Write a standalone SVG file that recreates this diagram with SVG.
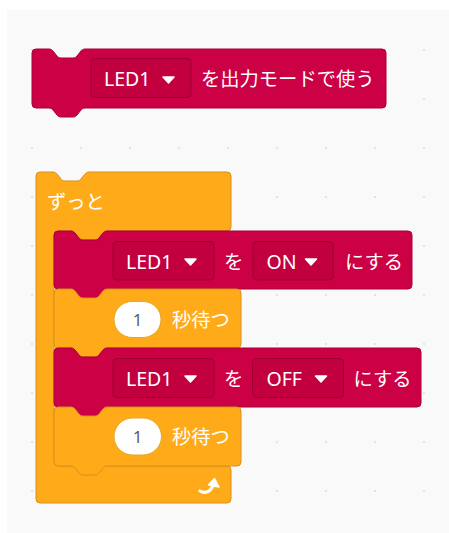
<svg xmlns="http://www.w3.org/2000/svg" width="449" height="533" viewBox="0 0 449 533">
<style>
.red{fill:#cc0044;stroke:#a8003a;stroke-width:1}
.yel{fill:#ffab19;stroke:#d6901a;stroke-width:1}
.dd{fill:#c20040;stroke:#99002f;stroke-width:1}
.arr{fill:#fff;stroke:#fff;stroke-width:1.5;stroke-linejoin:round}
.t{fill:#fff;font-family:"Noto Sans","Noto Sans CJK JP",sans-serif;font-size:19.5px}
.j{fill:#fff;font-family:"Noto Sans CJK JP",sans-serif;font-size:19.3px}
.oval{fill:#fff;stroke:#e5a52a;stroke-width:1}
.num{fill:#575e75;font-family:"Noto Sans","Noto Sans CJK JP",sans-serif;font-size:17px;text-anchor:middle}
</style>
<defs>
<pattern id="grid" patternUnits="userSpaceOnUse" x="8" y="-23" width="49" height="49">
<circle cx="24" cy="24" r="1" fill="#dcdcdc"/>
</pattern>
</defs>
<rect x="0" y="0" width="449" height="533" fill="#fff"/>
<rect x="7" y="10" width="442" height="523" fill="#f9f9f9"/>
<rect x="7" y="10" width="442" height="523" fill="url(#grid)"/>

<g id="setup">
<path class="red" d="M32,53 a4,4 0 0 1 4,-4 H49 c2,0 3,1 4,2 l4,5 c1,1 2,2 4,2 h12 c2,0 3,-1 4,-2 l4,-5 c1,-1 2,-2 4,-2 H382 a4,4 0 0 1 4,4 V104 a4,4 0 0 1 -4,4 H85 c-2,0 -3,1 -4,2 l-4,5 c-1,1 -2,2 -4,2 h-12 c-2,0 -3,-1 -4,-2 l-4,-5 c-1,-1 -2,-2 -4,-2 H36 a4,4 0 0 1 -4,-4 Z"/>
<rect class="dd" x="91" y="58.5" width="100" height="39" rx="4"/>
<text class="t" x="104" y="86">LED1</text>
<path class="arr" d="M163,77 h11 l-5.5,6 z"/>
<text class="j" x="201" y="86">を出力モードで使う</text>
</g>

<g id="forever">
<path class="yel" d="M36,176 a4,4 0 0 1 4,-4 H53 c2,0 3,1 4,2 l4,5 c1,1 2,2 4,2 h12 c2,0 3,-1 4,-2 l4,-5 c1,-1 2,-2 4,-2 H227 a4,4 0 0 1 4,4 V227 a4,4 0 0 1 -4,4 H107 c-2,0 -3,1 -4,2 l-4,5 c-1,1 -2,2 -4,2 h-12 c-2,0 -3,-1 -4,-2 l-4,-5 c-1,-1 -2,-2 -4,-2 H58 a4,4 0 0 0 -4,4 V462 a4,4 0 0 0 4,4 H227 a4,4 0 0 1 4,4 V499 a4,4 0 0 1 -4,4 H40 a4,4 0 0 1 -4,-4 Z"/>
<text class="j" x="47" y="209">ずっと</text>
<path d="M200,491 c5,3 11,1 13,-6" fill="none" stroke="#fff" stroke-width="3.2" stroke-linecap="round"/>
<path class="arr" d="M208.5,485 L214.5,478.5 L219,487 Z"/>
</g>

<g id="led-on">
<path class="red" d="M54,235 a4,4 0 0 1 4,-4 H71 c2,0 3,1 4,2 l4,5 c1,1 2,2 4,2 h12 c2,0 3,-1 4,-2 l4,-5 c1,-1 2,-2 4,-2 H408 a4,4 0 0 1 4,4 V285 a4,4 0 0 1 -4,4 H107 c-2,0 -3,1 -4,2 l-4,5 c-1,1 -2,2 -4,2 h-12 c-2,0 -3,-1 -4,-2 l-4,-5 c-1,-1 -2,-2 -4,-2 H58 a4,4 0 0 1 -4,-4 Z"/>
<rect class="dd" x="113" y="241.5" width="101" height="38.5" rx="4"/>
<text class="t" x="126" y="268.5">LED1</text>
<path class="arr" d="M185,259 h11 l-5.5,6 z"/>
<text class="j" x="224" y="268.5">を</text>
<rect class="dd" x="253" y="241.5" width="80" height="38.5" rx="4"/>
<text class="t" x="266.5" y="268.5">ON</text>
<path class="arr" d="M305.5,259 h11 l-5.5,6 z"/>
<text class="j" x="345" y="268.5">にする</text>
</g>

<g id="wait-1">
<path class="yel" d="M54,293 a4,4 0 0 1 4,-4 H71 c2,0 3,1 4,2 l4,5 c1,1 2,2 4,2 h12 c2,0 3,-1 4,-2 l4,-5 c1,-1 2,-2 4,-2 H237 a4,4 0 0 1 4,4 V344 a4,4 0 0 1 -4,4 H107 c-2,0 -3,1 -4,2 l-4,5 c-1,1 -2,2 -4,2 h-12 c-2,0 -3,-1 -4,-2 l-4,-5 c-1,-1 -2,-2 -4,-2 H58 a4,4 0 0 1 -4,-4 Z"/>
<rect class="oval" x="114" y="301.5" width="47" height="36" rx="18"/>
<text class="num" x="137.5" y="326">1</text>
<text class="j" x="172" y="327">秒待つ</text>
</g>

<g id="led-off">
<path class="red" d="M54,352 a4,4 0 0 1 4,-4 H71 c2,0 3,1 4,2 l4,5 c1,1 2,2 4,2 h12 c2,0 3,-1 4,-2 l4,-5 c1,-1 2,-2 4,-2 H417 a4,4 0 0 1 4,4 V403 a4,4 0 0 1 -4,4 H107 c-2,0 -3,1 -4,2 l-4,5 c-1,1 -2,2 -4,2 h-12 c-2,0 -3,-1 -4,-2 l-4,-5 c-1,-1 -2,-2 -4,-2 H58 a4,4 0 0 1 -4,-4 Z"/>
<rect class="dd" x="113" y="358.5" width="101" height="39" rx="4"/>
<text class="t" x="126" y="385.5">LED1</text>
<path class="arr" d="M185,376 h11 l-5.5,6 z"/>
<text class="j" x="224" y="385.5">を</text>
<rect class="dd" x="252.5" y="358.5" width="91" height="39" rx="4"/>
<text class="t" x="266.5" y="385.5">OFF</text>
<path class="arr" d="M315.5,376 h11 l-5.5,6 z"/>
<text class="j" x="353.5" y="385.5">にする</text>
</g>

<g id="wait-2">
<path class="yel" d="M54,411 a4,4 0 0 1 4,-4 H71 c2,0 3,1 4,2 l4,5 c1,1 2,2 4,2 h12 c2,0 3,-1 4,-2 l4,-5 c1,-1 2,-2 4,-2 H237 a4,4 0 0 1 4,4 V462 a4,4 0 0 1 -4,4 H107 c-2,0 -3,1 -4,2 l-4,5 c-1,1 -2,2 -4,2 h-12 c-2,0 -3,-1 -4,-2 l-4,-5 c-1,-1 -2,-2 -4,-2 H58 a4,4 0 0 1 -4,-4 Z"/>
<rect class="oval" x="114" y="418" width="47.5" height="37" rx="18.5"/>
<text class="num" x="137.5" y="443">1</text>
<text class="j" x="172" y="444">秒待つ</text>
</g>
</svg>
